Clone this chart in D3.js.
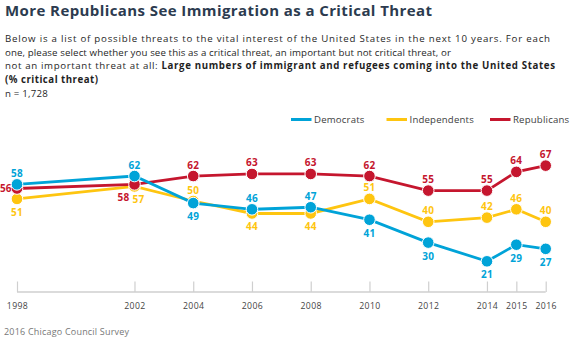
<!DOCTYPE html>
<html lang="en">
<head>
<meta charset="UTF-8">
<title>Immigration as a Critical Threat</title>
<script src="https://d3js.org/d3.v7.min.js"></script>
<style>
  body { margin: 0; background: #fff; }
  svg { display: block; font-family: "Open Sans", sans-serif; }
</style>
</head>
<body>
<script>
// survey years and % saying "critical threat" by party
var years = [1998, 2002, 2004, 2006, 2008, 2010, 2012, 2014, 2015, 2016];
var democrats    = [58, 62, 49, 46, 47, 41, 30, 21, 29, 27];
var independents = [51, 57, 50, 44, 44, 51, 40, 42, 46, 40];
var republicans  = [56, 58, 62, 63, 63, 62, 55, 55, 64, 67];
var seriesNames = ['Democrats', 'Independents', 'Republicans'];

// label placement per point: 'a' above, 'b' below, 'l' left, 'bl' below-left, 'br' below-right
var demPos = ['a', 'a', 'b', 'a', 'a', 'b', 'b', 'b', 'b', 'b'];
var indPos = ['b', 'br', 'a', 'b', 'b', 'a', 'a', 'a', 'a', 'a'];
var repPos = ['l', 'bl', 'a', 'a', 'a', 'a', 'a', 'a', 'a', 'a'];

var colors = { Democrats: '#00a3d8', Independents: '#fec510', Republicans: '#c5162e' };

var w = 570, h = 338;

var svg = d3.select('body')
            .append('svg')
            .attr('width', w)
            .attr('height', h);

// header text
svg.append('text')
   .attr('x', 5).attr('y', 16)
   .attr('fill', '#2c3b4f')
   .attr('font-size', 15)
   .attr('font-weight', 700)
   .attr('textLength', 427)
   .attr('lengthAdjust', 'spacing')
   .text('More Republicans See Immigration as a Critical Threat');

var intro = svg.append('g')
               .attr('font-size', 9.7)
               .attr('fill', '#1f1f1f');

// question text, each line stretched to its set width
intro.append('text').attr('x', 5).attr('y', 42)
     .attr('textLength', 545).attr('lengthAdjust', 'spacing')
     .text('Below is a list of possible threats to the vital interest of the United States in the next 10 years. For each');
intro.append('text').attr('x', 5).attr('y', 55.7)
     .attr('textLength', 446).attr('lengthAdjust', 'spacing')
     .text('one, please select whether you see this as a critical threat, an important but not critical threat, or');
var l3 = intro.append('text').attr('x', 5).attr('y', 69.4)
              .attr('textLength', 550).attr('lengthAdjust', 'spacing');
l3.append('tspan').text('not an important threat at all: ');
l3.append('tspan').attr('font-weight', 700)
  .text('Large numbers of immigrant and refugees coming into the United States');
intro.append('text').attr('x', 5).attr('y', 83.1).attr('font-weight', 700)
     .attr('textLength', 93).attr('lengthAdjust', 'spacing')
     .text('(% critical threat)');
intro.append('text').attr('x', 5).attr('y', 96.8)
     .attr('letter-spacing', 0.2)
     .text('n = 1,728');

// scales
var xScale = d3.scaleLinear()
               .domain([1998, 2016])
               .range([17, 545.7]);

var yScale = d3.scaleLinear()
               .domain([20, 70])
               .range([263.4, 159.4]);

// x axis: light baseline, upward ticks, year labels below
var axisY = 292;
var axisx = d3.axisBottom(xScale)
              .tickValues(years)
              .tickFormat(d3.format('d'))
              .tickSize(-10.5);

var gx = svg.append('g')
            .attr('transform', 'translate(0,' + axisY + ')')
            .call(axisx);

gx.select('.domain')
  .attr('d', 'M' + xScale(1998) + ',0H' + xScale(2016))
  .attr('stroke', '#cfcfcf')
  .attr('stroke-width', 1.6);
gx.selectAll('.tick line').attr('stroke', '#cfcfcf').attr('stroke-width', 1.2);
gx.selectAll('.tick text')
  .attr('y', 17)
  .attr('dy', 0)
  .attr('fill', '#444')
  .attr('font-size', 8.7)
  .attr('font-family', '"Open Sans", sans-serif')
  .attr('letter-spacing', 0.4);

// footer
svg.append('text')
   .attr('x', 4).attr('y', 335)
   .attr('fill', '#777')
   .attr('font-size', 9)
   .attr('letter-spacing', 0.2)
   .text('2016 Chicago Council Survey');

// legend
var legendItems = [
  { name: 'Democrats', x: 291 },
  { name: 'Independents', x: 386.5 },
  { name: 'Republicans', x: 490 }
];
var legend = svg.append('g');
legendItems.forEach(function (d) {
  legend.append('line')
        .attr('x1', d.x).attr('x2', d.x + 20.5)
        .attr('y1', 119.5).attr('y2', 119.5)
        .attr('stroke', colors[d.name])
        .attr('stroke-width', 3);
  legend.append('text')
        .attr('x', d.x + 23).attr('y', 122.8)
        .attr('fill', '#3d3d3d')
        .attr('font-size', 9.6)
        .attr('letter-spacing', 0.2)
        .text(d.name);
});

// series drawn Independents, Republicans, then Democrats on top
var series = [
  { name: 'Independents', values: independents, pos: indPos },
  { name: 'Republicans', values: republicans, pos: repPos },
  { name: 'Democrats', values: democrats, pos: demPos }
];

var line = d3.line()
             .x(function (d, i) { return xScale(years[i]); })
             .y(function (d) { return yScale(d); });

series.forEach(function (s) {
  var g = svg.append('g');
  g.append('path')
   .datum(s.values)
   .attr('d', line)
   .attr('fill', 'none')
   .attr('stroke', colors[s.name])
   .attr('stroke-width', 2.8);

  g.selectAll('circle')
   .data(s.values)
   .enter()
   .append('circle')
   .attr('cx', function (d, i) { return xScale(years[i]); })
   .attr('cy', function (d) { return yScale(d); })
   .attr('r', 5.8)
   .attr('fill', colors[s.name])
   .attr('stroke', '#fff')
   .attr('stroke-width', 1);
});

// value labels on top of everything
series.forEach(function (s) {
  svg.append('g')
     .selectAll('text')
     .data(s.values)
     .enter()
     .append('text')
     .attr('x', function (d, i) {
       var p = s.pos[i], x = xScale(years[i]);
       if (p === 'l') return 0;
       if (p === 'bl') return x - 11;
       if (p === 'br') return x + 4;
       return x;
     })
     .attr('y', function (d, i) {
       var p = s.pos[i], y = yScale(d);
       if (p === 'a') return y - 7.5;
       if (p === 'l') return y + 3.5;
       return y + 17;
     })
     .attr('text-anchor', function (d, i) { return s.pos[i] === 'l' ? 'start' : 'middle'; })
     .attr('fill', colors[s.name])
     .attr('font-size', 10)
     .attr('font-weight', 700)
     .attr('letter-spacing', function (d, i) { return s.pos[i] === 'l' ? 0 : 0.3; })
     .text(function (d) { return d; });
});
</script>
</body>
</html>
